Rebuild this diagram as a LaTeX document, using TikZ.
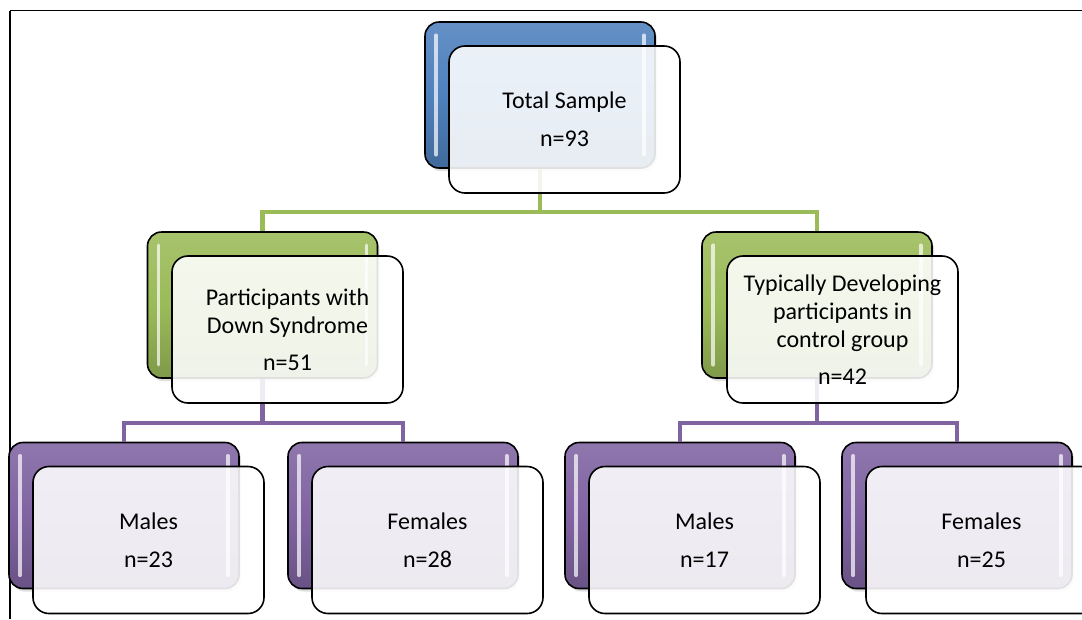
\documentclass[tikz,border=0pt]{standalone}
\usepackage{fontspec}
\setmainfont{Carlito}
\usetikzlibrary{shadows}
\definecolor{accblue}{HTML}{4F81BD}
\definecolor{accgreen}{HTML}{9BBB59}
\definecolor{accpurple}{HTML}{8064A2}
\tikzset{
  backbox/.style={draw=black, line width=1.6pt, rounded corners=14pt,
    minimum width=230pt, minimum height=146pt, inner sep=0pt,
    top color=#1!88!white, bottom color=#1!82!black, middle color=#1,
    drop shadow={opacity=0.25, shadow xshift=2pt, shadow yshift=-3pt}},
  frontbox/.style={draw=black, line width=1.6pt, rounded corners=16pt,
    minimum width=231pt, minimum height=147pt, inner sep=2pt,
    fill=white, fill opacity=0.88, text opacity=1, align=center,
    font=\fontsize{24pt}{28pt}\selectfont},
  gloss/.style={line width=3.5pt, line cap=round, draw=white, draw opacity=0.7},
  gconn/.style={draw=accgreen, line width=4.5pt},
  pconn/.style={draw=accpurple, line width=4.5pt},
  frameline/.style={draw=black, line width=1.6pt}
}
\newcommand{\glossstrips}[1]{%
  \draw[gloss] ([xshift=12pt,yshift=-14pt]#1.north west) -- ([xshift=12pt,yshift=14pt]#1.south west);
  \draw[gloss] ([xshift=-12pt,yshift=-14pt]#1.north east) -- ([xshift=-12pt,yshift=14pt]#1.south east);}
\begin{document}
\begin{tikzpicture}[x=1pt, y=-1pt]
\useasboundingbox (0,0) rectangle (1082,619);
\clip (0,0) rectangle (1082,619);
\fill[white] (0,0) rectangle (1082,619);

% outer frame (top and left edges)
\draw[frameline] (10,10.5) -- (1082,10.5);
\draw[frameline] (10,10.5) -- (10,619);

% back plates, coloured
\node[backbox=accblue]   (tb)  at (540,95)    {};
\node[backbox=accgreen]  (gl)  at (262.5,305) {};
\node[backbox=accgreen]  (gr)  at (817,305)   {};
\node[backbox=accpurple] (p1)  at (124,515.5) {};
\node[backbox=accpurple] (p2)  at (403,515.5) {};
\node[backbox=accpurple] (p3)  at (680,515.5) {};
\node[backbox=accpurple] (p4)  at (957,515.5) {};

% connectors
\draw[gconn] (tb.south) -- (tb.south |- 0,212) coordinate (gmid);
\draw[gconn] (gl.north) |- (gmid) -| (gr.north);
\draw[pconn] (gl.south) -- (gl.south |- 0,423) coordinate (pmidl);
\draw[pconn] (p1.north) |- (pmidl) -| (p2.north);
\draw[pconn] (gr.south) -- (gr.south |- 0,423) coordinate (pmidr);
\draw[pconn] (p3.north) |- (pmidr) -| (p4.north);

% glossy highlights on the plates
\foreach \b in {tb,gl,gr,p1,p2,p3,p4}{\glossstrips{\b}}

% front cards with the labels
\node[frontbox] (tf)  at (564.5,119.5) {Total Sample\\[10pt]n=93};
\node[frontbox] (glf) at (287.5,329.5) {Participants with\\Down Syndrome\\[9pt]n=51};
\node[frontbox] (grf) at (842.5,329.5) {Typically Developing\\participants in\\control group\\[9pt]n=42};
\node[frontbox] (p1f) at (148.5,540)   {Males\\[10pt]n=23};
\node[frontbox] (p2f) at (427.5,540)   {Females\\[10pt]n=28};
\node[frontbox] (p3f) at (704.5,540)   {Males\\[10pt]n=17};
\node[frontbox] (p4f) at (981.5,540)   {Females\\[10pt]n=25};
\end{tikzpicture}
\end{document}
